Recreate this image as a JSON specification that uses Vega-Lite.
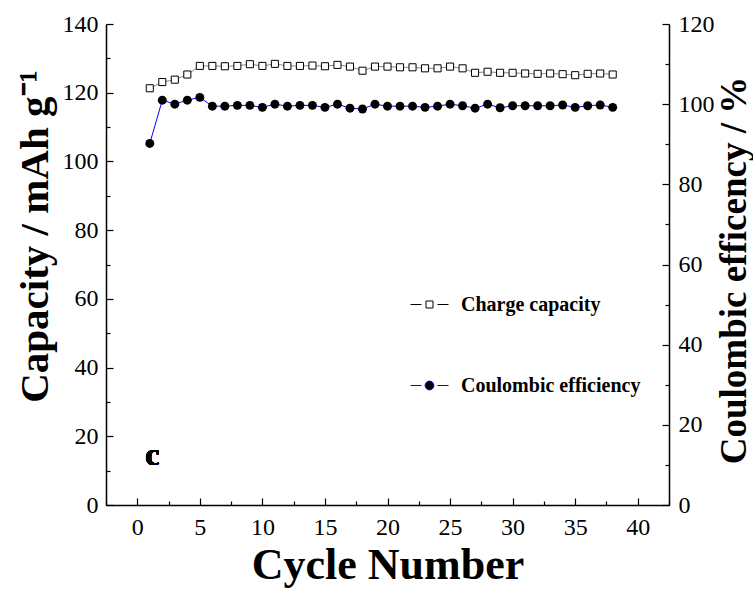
{
  "$schema": "https://vega.github.io/schema/vega-lite/v6.json",
  "width": 563,
  "height": 481,
  "autosize": {"type": "none"},
  "padding": {"left": 106, "top": 24, "right": 84, "bottom": 89},
  "background": "white",
  "config": {
    "view": {"stroke": null},
    "font": "Liberation Serif",
    "axis": {
      "grid": false,
      "domainColor": "black",
      "domainWidth": 1.5,
      "tickColor": "black",
      "tickWidth": 1.2,
      "labelColor": "black",
      "titleColor": "black",
      "labelFont": "Liberation Serif",
      "labelFontSize": 24,
      "titleFont": "Liberation Serif",
      "titleFontWeight": "bold"
    },
    "legend": {
      "labelFont": "Liberation Serif",
      "labelFontWeight": "bold",
      "labelFontSize": 20,
      "labelColor": "black",
      "labelLimit": 0,
      "padding": 0
    }
  },
  "data": {
    "values": [
      {"cycle": 1, "capacity": 121.3, "efficiency": 90.2},
      {"cycle": 2, "capacity": 123.1, "efficiency": 101.0},
      {"cycle": 3, "capacity": 123.8, "efficiency": 100.0},
      {"cycle": 4, "capacity": 125.3, "efficiency": 101.0},
      {"cycle": 5, "capacity": 127.8, "efficiency": 101.7},
      {"cycle": 6, "capacity": 127.8, "efficiency": 99.5},
      {"cycle": 7, "capacity": 127.7, "efficiency": 99.5},
      {"cycle": 8, "capacity": 127.8, "efficiency": 99.7},
      {"cycle": 9, "capacity": 128.3, "efficiency": 99.7},
      {"cycle": 10, "capacity": 127.8, "efficiency": 99.2},
      {"cycle": 11, "capacity": 128.4, "efficiency": 100.0},
      {"cycle": 12, "capacity": 127.8, "efficiency": 99.5},
      {"cycle": 13, "capacity": 127.8, "efficiency": 99.7},
      {"cycle": 14, "capacity": 127.9, "efficiency": 99.7},
      {"cycle": 15, "capacity": 127.7, "efficiency": 99.2},
      {"cycle": 16, "capacity": 128.1, "efficiency": 100.0},
      {"cycle": 17, "capacity": 127.6, "efficiency": 99.0},
      {"cycle": 18, "capacity": 126.4, "efficiency": 98.8},
      {"cycle": 19, "capacity": 127.6, "efficiency": 100.0},
      {"cycle": 20, "capacity": 127.6, "efficiency": 99.5},
      {"cycle": 21, "capacity": 127.4, "efficiency": 99.5},
      {"cycle": 22, "capacity": 127.4, "efficiency": 99.5},
      {"cycle": 23, "capacity": 127.1, "efficiency": 99.2},
      {"cycle": 24, "capacity": 127.1, "efficiency": 99.5},
      {"cycle": 25, "capacity": 127.6, "efficiency": 100.0},
      {"cycle": 26, "capacity": 127.1, "efficiency": 99.6},
      {"cycle": 27, "capacity": 125.8, "efficiency": 99.0},
      {"cycle": 28, "capacity": 126.1, "efficiency": 100.0},
      {"cycle": 29, "capacity": 125.8, "efficiency": 99.1},
      {"cycle": 30, "capacity": 125.8, "efficiency": 99.6},
      {"cycle": 31, "capacity": 125.6, "efficiency": 99.6},
      {"cycle": 32, "capacity": 125.5, "efficiency": 99.6},
      {"cycle": 33, "capacity": 125.6, "efficiency": 99.6},
      {"cycle": 34, "capacity": 125.4, "efficiency": 99.8},
      {"cycle": 35, "capacity": 125.1, "efficiency": 99.2},
      {"cycle": 36, "capacity": 125.5, "efficiency": 99.6},
      {"cycle": 37, "capacity": 125.6, "efficiency": 99.8},
      {"cycle": 38, "capacity": 125.3, "efficiency": 99.2}
    ]
  },
  "layer": [
    {
      "mark": {"type": "line", "color": "#555555", "strokeWidth": 0.7},
      "encoding": {
        "x": {"field": "cycle", "type": "quantitative", "scale": {"domain": [-2.5, 42.5], "nice": false, "zero": false},
              "axis": {"orient": "bottom", "values": [0,5,10,15,20,25,30,35,40], "tickSize": -7, "labelPadding": 17, "labelFlush": false, "labelFont": "Liberation Serif", "title": "Cycle Number", "titleFontSize": 44, "titlePadding": 4}},
        "y": {"field": "capacity", "type": "quantitative", "scale": {"domain": [0, 140], "nice": false, "zero": false},
              "axis": {"orient": "left", "values": [0,20,40,60,80,100,120,140], "tickSize": -7, "labelPadding": 15, "labelFont": "Liberation Serif", "title": "Capacity / mAh g⁻¹", "titleFontSize": 41, "titlePadding": 6, "titleY": 212}}
      }
    },
    {
      "mark": {"type": "point", "shape": "square", "filled": false, "fill": "white", "size": 50, "strokeWidth": 1, "opacity": 1},
      "encoding": {
        "x": {"field": "cycle", "type": "quantitative", "scale": {"domain": [-2.5, 42.5], "nice": false, "zero": false}, "axis": null},
        "y": {"field": "capacity", "type": "quantitative", "scale": {"domain": [0, 140], "nice": false, "zero": false},
              "axis": {"orient": "left", "values": [10,30,50,70,90,110,130], "tickSize": -4, "labels": false, "domain": false, "title": null}},
        "color": {"datum": "Charge capacity", "scale": {"range": ["black"]},
                  "legend": {"orient": "none", "legendX": 303, "legendY": 260, "title": null, "symbolType": "M-0.95,0H-0.4M0.4,0H0.95M-0.175,-0.175H0.175V0.175H-0.175Z", "symbolSize": 1600, "symbolStrokeWidth": 1, "labelOffset": 11}}
      }
    },
    {
      "mark": {"type": "line", "color": "blue", "strokeWidth": 1},
      "encoding": {
        "x": {"field": "cycle", "type": "quantitative", "scale": {"domain": [-2.5, 42.5], "nice": false, "zero": false},
              "axis": {"orient": "bottom", "values": [-2.5,2.5,7.5,12.5,17.5,22.5,27.5,32.5,37.5,42.5], "tickSize": -4, "labels": false, "domain": false, "title": null}},
        "y": {"field": "efficiency", "type": "quantitative", "scale": {"domain": [0, 120], "nice": false, "zero": false},
              "axis": {"orient": "right", "values": [0,20,40,60,80,100,120], "tickSize": -7, "labelPadding": 16, "labelFont": "Liberation Serif", "title": "Coulombic efficency / %", "titleAngle": 270, "titleBaseline": "top", "titleFontSize": 37, "titlePadding": 2, "titleY": 246}}
      }
    },
    {
      "mark": {"type": "point", "shape": "circle", "filled": true, "size": 80, "opacity": 1},
      "encoding": {
        "x": {"field": "cycle", "type": "quantitative", "scale": {"domain": [-2.5, 42.5], "nice": false, "zero": false}, "axis": null},
        "y": {"field": "efficiency", "type": "quantitative", "scale": {"domain": [0, 120], "nice": false, "zero": false},
              "axis": {"orient": "right", "values": [10,30,50,70,90,110], "tickSize": -4, "labels": false, "domain": false, "title": null}},
        "color": {"datum": "Coulombic efficiency", "scale": {"range": ["black"]},
                  "legend": {"orient": "none", "legendX": 303, "legendY": 341, "title": null, "symbolType": "M-0.95,0H-0.4M0.4,0H0.95M-0.22,0A0.22,0.22,0,1,1,0.22,0A0.22,0.22,0,1,1,-0.22,0Z", "symbolSize": 1600, "symbolStrokeColor": "blue", "symbolStrokeWidth": 1, "labelOffset": 11}}
      }
    },
    {
      "mark": {"type": "text", "text": "c", "font": "Liberation Serif", "fontWeight": "bold", "fontSize": 32, "fill": "black", "align": "center", "baseline": "alphabetic"},
      "encoding": {
        "x": {"datum": 1.2, "type": "quantitative", "scale": {"domain": [-2.5, 42.5], "nice": false, "zero": false}, "axis": null},
        "y": {"datum": 11.5, "type": "quantitative", "scale": {"domain": [0, 140], "nice": false, "zero": false}, "axis": null}
      }
    }
  ],
  "resolve": {
    "scale": {"y": "independent", "color": "independent"},
    "axis": {"x": "independent", "y": "independent"},
    "legend": {"color": "independent"}
  }
}
